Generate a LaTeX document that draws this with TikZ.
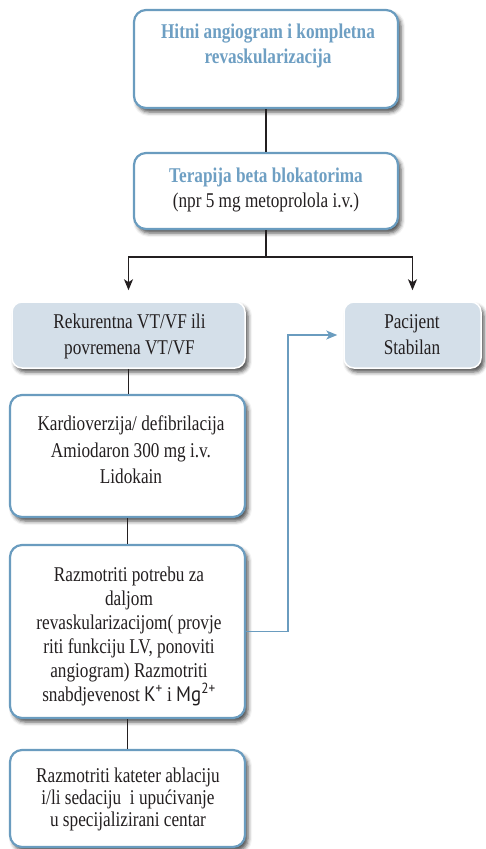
\documentclass[tikz,border=0pt]{standalone}
\usepackage{fontspec}
\setmainfont[FakeStretch=0.82]{Liberation Serif}
\newfontfamily\kfont[FakeStretch=0.9]{PT Sans}
\usetikzlibrary{arrows.meta,shadows.blur}
\definecolor{bord}{HTML}{6A9CBF}
\definecolor{ttlc}{HTML}{6E9FC3}
\definecolor{gfill}{HTML}{D4DFE9}
\definecolor{txtc}{HTML}{231F20}
\begin{document}
\begin{tikzpicture}[x=1pt,y=-1pt,
  shad/.style={blur shadow={shadow xshift=3pt, shadow yshift=-4pt, shadow blur radius=4pt, shadow opacity=70}},
  wbox/.style={draw=bord, line width=2.2pt, fill=white, rounded corners=12pt, inner sep=0pt, shad},
  gbox/.style={draw=white, line width=1.5pt, fill=gfill, rounded corners=10pt, inner sep=0pt, shad},
  txt/.style={align=center, inner sep=0pt, font=\fontsize{21}{25}\selectfont, text=txtc},
  ttl/.style={align=center, inner sep=0pt, font=\fontsize{21}{25}\selectfont\bfseries, text=ttlc},
  conn/.style={line width=1.2pt, draw=txtc},
  arr/.style={conn, -{Stealth[length=11pt,width=9pt,inset=3pt]}, shorten >=11pt},
  barr/.style={line width=1.2pt, draw=bord, -{Stealth[length=11pt,width=9pt,inset=3pt]}, shorten >=6pt}
]
\useasboundingbox (0,0) rectangle (486,849);

% boxes
\node[wbox, minimum width=264pt, minimum height=98pt] (b1) at (266,59) {};
\node[wbox, minimum width=264pt, minimum height=76pt] (b2) at (266,191) {};
\node[gbox, minimum width=233pt, minimum height=66pt] (b3) at (128.5,335) {};
\node[gbox, minimum width=137pt, minimum height=66pt] (b7) at (412.5,335) {};
\node[wbox, minimum width=235pt, minimum height=122pt] (b4) at (127.5,456) {};
\node[wbox, minimum width=235pt, minimum height=173pt] (b5) at (127.5,631.5) {};
\node[wbox, minimum width=235pt, minimum height=97pt] (b6) at (127.5,798.5) {};

% texts
\node[ttl] (t1) at (268,46) {Hitni angiogram i kompletna\\revaskularizacija};
\node[txt] (t2) at (266,189.5) {{\bfseries\color{ttlc}Terapija beta blokatorima}\\(npr 5 mg metoprolola i.v.)};
\node[txt, font=\fontsize{21}{26}\selectfont] (t3) at (129.5,336.5) {Rekurentna VT/VF ili\\povremena VT/VF};
\node[txt, font=\fontsize{21}{26}\selectfont] (t7) at (412,335) {Pacijent\\Stabilan};
\node[txt, font=\fontsize{21}{26.5}\selectfont] (t4) at (131,450) {Kardioverzija/ defibrilacija\\Amiodaron 300 mg i.v.\\Lidokain};
\node[txt, font=\fontsize{21}{24}\selectfont] (t5) at (129,636) {Razmotriti potrebu za\\daljom\\revaskularizacijom( provje\\riti funkciju LV, ponoviti\\angiogram) Razmotriti\\snabdjevenost {\kfont K\textsuperscript{+}} i\ {\kfont Mg\textsuperscript{2+}}};
\node[txt, font=\fontsize{21}{22}\selectfont] (t6) at (128,799) {Razmotriti kateter ablaciju\\i/li sedaciju\ \ i upućivanje\\u specijalizirani centar};

% connectors
\coordinate (sp) at (266,257);
\coordinate (bx) at (288,0);
\draw[conn] (b1.south) -- (b2.north);
\draw[conn] (b2.south) -- (sp);
\draw[arr] (sp) -| (b3.north);
\draw[arr] (sp) -| (b7.north);
\draw[conn] (b3.south) -- (b3.south |- b4.north);
\draw[conn] (b4.south) -- (b5.north);
\draw[conn] (b5.south) -- (b6.north);
\draw[barr] (b5.east) -| (bx |- b7.west) -- (b7.west);
\end{tikzpicture}
\end{document}
